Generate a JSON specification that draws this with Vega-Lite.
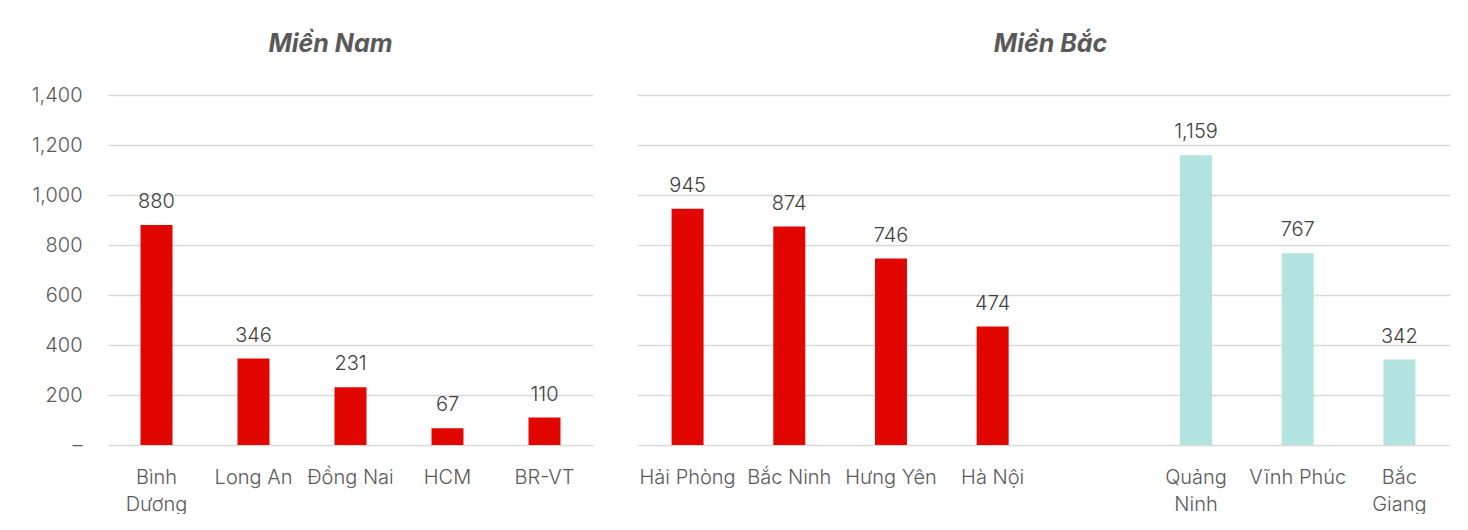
{
  "$schema": "https://vega.github.io/schema/vega-lite/v6.json",
  "background": "white",
  "padding": {"left": 8, "top": 32, "right": 10, "bottom": 0},
  "autosize": {"type": "pad"},
  "data": {
    "values": [
      {"mien": "Miền Nam", "tinh": "Bình Dương", "dien_tich": 880, "nhom": "hien_huu"},
      {"mien": "Miền Nam", "tinh": "Long An", "dien_tich": 346, "nhom": "hien_huu"},
      {"mien": "Miền Nam", "tinh": "Đồng Nai", "dien_tich": 231, "nhom": "hien_huu"},
      {"mien": "Miền Nam", "tinh": "HCM", "dien_tich": 67, "nhom": "hien_huu"},
      {"mien": "Miền Nam", "tinh": "BR-VT", "dien_tich": 110, "nhom": "hien_huu"},
      {"mien": "Miền Bắc", "tinh": "Hải Phòng", "dien_tich": 945, "nhom": "hien_huu"},
      {"mien": "Miền Bắc", "tinh": "Bắc Ninh", "dien_tich": 874, "nhom": "hien_huu"},
      {"mien": "Miền Bắc", "tinh": "Hưng Yên", "dien_tich": 746, "nhom": "hien_huu"},
      {"mien": "Miền Bắc", "tinh": "Hà Nội", "dien_tich": 474, "nhom": "hien_huu"},
      {"mien": "Miền Bắc", "tinh": "Quảng Ninh", "dien_tich": 1159, "nhom": "moi_noi"},
      {"mien": "Miền Bắc", "tinh": "Vĩnh Phúc", "dien_tich": 767, "nhom": "moi_noi"},
      {"mien": "Miền Bắc", "tinh": "Bắc Giang", "dien_tich": 342, "nhom": "moi_noi"}
    ]
  },
  "config": {
    "font": "Inter",
    "view": {"stroke": null},
    "axis": {
      "labelFont": "Inter",
      "labelFontSize": 20,
      "labelFontWeight": 300,
      "labelColor": "#595959",
      "gridColor": "#d9d9d9",
      "gridWidth": 1.5,
      "domain": false,
      "ticks": false,
      "title": null
    },
    "title": {
      "font": "Inter",
      "fontSize": 25,
      "fontWeight": "bold",
      "fontStyle": "italic",
      "color": "#595959",
      "frame": "group"
    }
  },
  "spacing": 44,
  "hconcat": [
    {
      "title": {"text": "Miền Nam", "dx": -20, "offset": 28},
      "width": 485,
      "height": 350,
      "transform": [{"filter": "datum.mien == 'Miền Nam'"}],
      "encoding": {
        "x": {
          "field": "tinh",
          "type": "nominal",
          "scale": {
            "domain": ["Bình Dương", "Long An", "Đồng Nai", "HCM", "BR-VT"],
            "paddingInner": 0.67,
            "paddingOuter": 0.335
          },
          "axis": {
            "labelAngle": 0,
            "labelPadding": 22,
            "labelLineHeight": 27,
            "labelExpr": "datum.label == 'Bình Dương' ? ['Bình', 'Dương'] : datum.label"
          }
        },
        "y": {
          "field": "dien_tich",
          "type": "quantitative",
          "scale": {"domain": [0, 1400], "nice": false},
          "axis": {
            "values": [0, 200, 400, 600, 800, 1000, 1200, 1400],
            "labelExpr": "datum.value == 0 ? '–' : format(datum.value, ',')",
            "labelPadding": 26,
            "minExtent": 100,
            "maxExtent": 100
          }
        }
      },
      "layer": [
        {
          "mark": {"type": "bar", "width": 32},
          "encoding": {
            "color": {
              "field": "nhom",
              "type": "nominal",
              "scale": {"domain": ["hien_huu", "moi_noi"], "range": ["#e10600", "#b2e3e1"]},
              "legend": null
            }
          }
        },
        {
          "mark": {"type": "text", "baseline": "alphabetic", "dy": -17, "fontSize": 20, "fontWeight": 300, "color": "#404040"},
          "encoding": {"text": {"field": "dien_tich", "type": "quantitative", "format": ","}}
        }
      ]
    },
    {
      "title": {"text": "Miền Bắc", "dx": 7, "offset": 38},
      "width": 813,
      "height": 350,
      "transform": [{"filter": "datum.mien == 'Miền Bắc'"}],
      "encoding": {
        "x": {
          "field": "tinh",
          "type": "nominal",
          "scale": {
            "domain": ["Hải Phòng", "Bắc Ninh", "Hưng Yên", "Hà Nội", " ", "Quảng Ninh", "Vĩnh Phúc", "Bắc Giang"],
            "paddingInner": 0.685,
            "paddingOuter": 0.34
          },
          "axis": {
            "labelAngle": 0,
            "labelPadding": 22,
            "labelLineHeight": 27,
            "labelExpr": "indexof(['Quảng Ninh', 'Bắc Giang'], datum.label) >= 0 ? split(datum.label, ' ') : datum.label"
          }
        },
        "y": {
          "field": "dien_tich",
          "type": "quantitative",
          "scale": {"domain": [0, 1400], "nice": false},
          "axis": {
            "values": [0, 200, 400, 600, 800, 1000, 1200, 1400],
            "labels": false,
            "minExtent": 0,
            "maxExtent": 0
          }
        }
      },
      "layer": [
        {
          "mark": {"type": "bar", "width": 32},
          "encoding": {
            "color": {
              "field": "nhom",
              "type": "nominal",
              "scale": {"domain": ["hien_huu", "moi_noi"], "range": ["#e10600", "#b2e3e1"]},
              "legend": null
            }
          }
        },
        {
          "mark": {"type": "text", "baseline": "alphabetic", "dy": -17, "fontSize": 20, "fontWeight": 300, "color": "#404040"},
          "encoding": {"text": {"field": "dien_tich", "type": "quantitative", "format": ","}}
        }
      ]
    }
  ]
}
